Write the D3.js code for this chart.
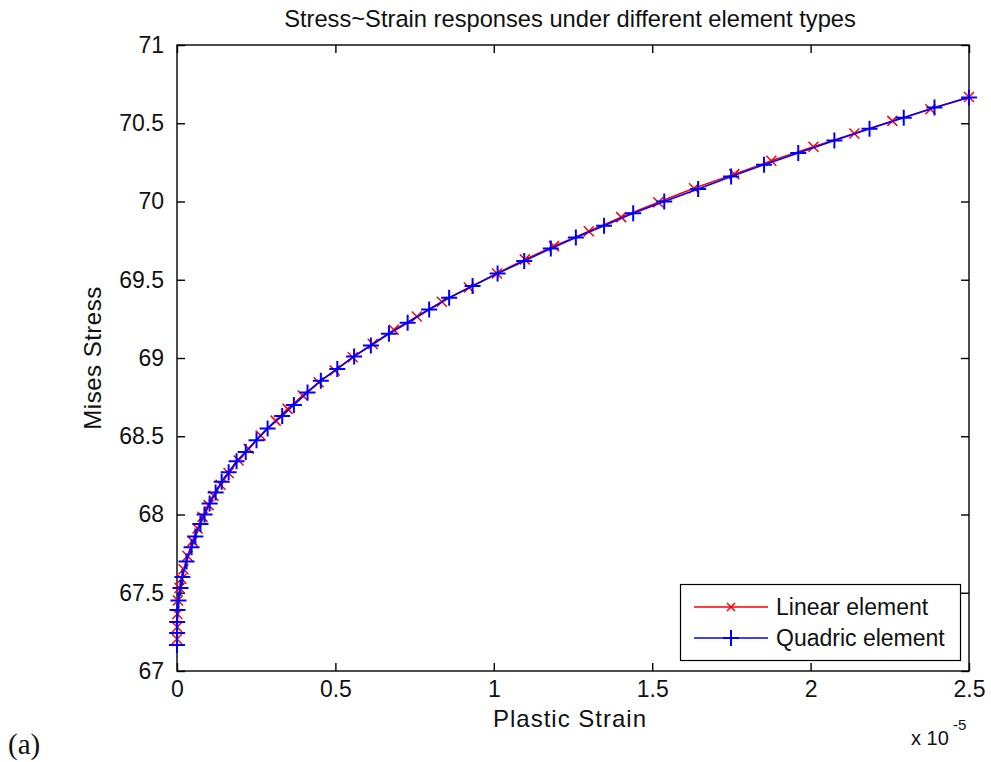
<!DOCTYPE html>
<html>
<head>
<meta charset="utf-8">
<script src="https://cdnjs.cloudflare.com/ajax/libs/d3/7.8.5/d3.min.js"></script>
<style>
  body { margin: 0; background: #fff; }
  svg text { font-family: "Liberation Sans", Arial, sans-serif; fill: #111; }
</style>
</head>
<body>
<div id="area"></div>
<script>
// strain values are in units of 1e-5
var linearStrain = [0, 0.0003, 0.001, 0.003, 0.008, 0.014, 0.0205, 0.0332, 0.049, 0.0648, 0.0806,
  0.0996, 0.1154, 0.1375, 0.1628, 0.1944, 0.226, 0.2639, 0.3113, 0.3492, 0.3966, 0.4472, 0.4978,
  0.5547, 0.6179, 0.6843, 0.7569, 0.836, 0.9213, 1.01, 1.098, 1.19, 1.3, 1.402, 1.519, 1.632,
  1.759, 1.876, 2.009, 2.138, 2.258, 2.378, 2.5];
var linearStress = [67.204, 67.281, 67.364, 67.45, 67.53, 67.59, 67.65, 67.735, 67.83, 67.91, 67.985,
  68.06, 68.12, 68.19, 68.265, 68.345, 68.42, 68.505, 68.6, 68.675, 68.76, 68.845, 68.92,
  69.005, 69.09, 69.18, 69.265, 69.36, 69.45, 69.54, 69.63, 69.715, 69.81, 69.9, 69.995, 70.085,
  70.175, 70.26, 70.35, 70.435, 70.515, 70.59, 70.668];

var quadricStrain = [0, 0.0002, 0.0006, 0.0015, 0.0047, 0.011, 0.017, 0.03, 0.046, 0.058, 0.074,
  0.087, 0.103, 0.122, 0.141, 0.163, 0.188, 0.217, 0.251, 0.286, 0.332, 0.369, 0.412, 0.454,
  0.506, 0.559, 0.612, 0.669, 0.728, 0.796, 0.859, 0.933, 1.012, 1.096, 1.18, 1.259, 1.348,
  1.44, 1.538, 1.645, 1.749, 1.853, 1.961, 2.075, 2.186, 2.294, 2.391, 2.5];
var quadricStress = [67.166, 67.243, 67.313, 67.39, 67.45, 67.53, 67.6, 67.7, 67.79, 67.86, 67.94,
  68.0, 68.07, 68.14, 68.21, 68.27, 68.34, 68.4, 68.475, 68.55, 68.63, 68.7, 68.78, 68.855,
  68.93, 69.01, 69.08, 69.155, 69.225, 69.31, 69.385, 69.46, 69.54, 69.62, 69.7, 69.77, 69.845,
  69.925, 70.0, 70.08, 70.16, 70.235, 70.31, 70.39, 70.465, 70.535, 70.6, 70.665];

var xTicks = [0, 0.5, 1, 1.5, 2, 2.5];
var yTicks = [67, 67.5, 68, 68.5, 69, 69.5, 70, 70.5, 71];
var seriesNames = ["Linear element", "Quadric element"];

var W = 991, H = 762;
var margin = { left: 177, right: 969, top: 45, bottom: 671 };

var svg = d3.select("#area").append("svg")
  .attr("width", W).attr("height", H);

var x = d3.scaleLinear().domain([0, 2.5]).range([margin.left, margin.right]);
var y = d3.scaleLinear().domain([67, 71]).range([margin.bottom, margin.top]);

// axes box
svg.append("rect")
  .attr("x", margin.left).attr("y", margin.top)
  .attr("width", margin.right - margin.left).attr("height", margin.bottom - margin.top)
  .attr("fill", "#fff").attr("stroke", "#000").attr("stroke-width", 1.4);

function styleAxis(g) {
  g.select(".domain").remove();
  g.selectAll(".tick line").attr("stroke", "#000").attr("stroke-width", 1.4);
  g.selectAll(".tick text").attr("font-size", 23).attr("fill", "#111")
    .attr("font-family", "Liberation Sans, Arial, sans-serif");
}

svg.append("g")
  .attr("transform", "translate(0," + margin.bottom + ")")
  .call(d3.axisBottom(x).tickValues(xTicks).tickFormat(String).tickSize(-8).tickPadding(10))
  .call(styleAxis);
svg.append("g")
  .attr("transform", "translate(" + margin.left + ",0)")
  .call(d3.axisLeft(y).tickValues(yTicks).tickFormat(String).tickSize(-8).tickPadding(13))
  .call(styleAxis);
svg.append("g")
  .attr("transform", "translate(0," + margin.top + ")")
  .call(d3.axisTop(x).tickValues(xTicks).tickFormat("").tickSize(-8))
  .call(styleAxis);
svg.append("g")
  .attr("transform", "translate(" + margin.right + ",0)")
  .call(d3.axisRight(y).tickValues(yTicks).tickFormat("").tickSize(-8))
  .call(styleAxis);

var line = d3.line().x(function (d) { return x(d[0]); }).y(function (d) { return y(d[1]); });

var linearData = d3.zip(linearStrain, linearStress);
var quadricData = d3.zip(quadricStrain, quadricStress);

var crossPath = "M-5,-5L5,5M-5,5L5,-5";
var plusPath = "M-8,0L8,0M0,-8L0,8";

var plot = svg.append("g");

plot.append("path").datum(linearData)
  .attr("d", line).attr("fill", "none").attr("stroke", "#ff0000").attr("stroke-width", 1.5);
plot.selectAll(".mk-lin").data(linearData).enter().append("path")
  .attr("class", "mk-lin")
  .attr("transform", function (d) { return "translate(" + x(d[0]) + "," + y(d[1]) + ")"; })
  .attr("d", crossPath).attr("stroke", "#ff0000").attr("stroke-width", 1.5).attr("fill", "none");

plot.append("path").datum(quadricData)
  .attr("d", line).attr("fill", "none").attr("stroke", "#0000ff").attr("stroke-width", 1.6);
plot.selectAll(".mk-quad").data(quadricData).enter().append("path")
  .attr("class", "mk-quad")
  .attr("transform", function (d) { return "translate(" + x(d[0]) + "," + y(d[1]) + ")"; })
  .attr("d", plusPath).attr("stroke", "#0000ff").attr("stroke-width", 2).attr("fill", "none");

// title and labels
svg.append("text")
  .attr("x", (margin.left + margin.right) / 2 - 3).attr("y", 27)
  .attr("text-anchor", "middle").attr("font-size", 23.7)
  .text("Stress~Strain responses under different element types");

svg.append("text")
  .attr("x", (margin.left + margin.right) / 2 - 3).attr("y", 727)
  .attr("text-anchor", "middle").attr("font-size", 24)
  .style("letter-spacing", "1px")
  .text("Plastic Strain");

svg.append("text")
  .attr("transform", "translate(101,358) rotate(-90)")
  .attr("text-anchor", "middle").attr("font-size", 24)
  .style("letter-spacing", "0.5px")
  .text("Mises Stress");

svg.append("text")
  .attr("x", 911).attr("y", 745).attr("font-size", 20)
  .text("x 10");
svg.append("text")
  .attr("x", 953).attr("y", 730).attr("font-size", 15)
  .text("-5");

svg.append("text")
  .attr("x", 8).attr("y", 754).attr("font-size", 29)
  .style("font-family", "Liberation Serif, Times New Roman, serif")
  .attr("fill", "#000")
  .text("(a)");

// legend
var legend = svg.append("g");
legend.append("rect")
  .attr("x", 680.5).attr("y", 584.5).attr("width", 280).attr("height", 76)
  .attr("fill", "#fff").attr("stroke", "#000").attr("stroke-width", 1.2);

var legendColors = ["#ff0000", "#0000ff"];
var legendMarks = ["M-4,-4L4,4M-4,4L4,-4", plusPath];
var legendRows = [607, 638];

seriesNames.forEach(function (name, i) {
  legend.append("line")
    .attr("x1", 694).attr("x2", 768).attr("y1", legendRows[i]).attr("y2", legendRows[i])
    .attr("stroke", legendColors[i]).attr("stroke-width", 1.5);
  legend.append("path")
    .attr("transform", "translate(731," + legendRows[i] + ")")
    .attr("d", legendMarks[i]).attr("stroke", legendColors[i])
    .attr("stroke-width", i === 0 ? 1.5 : 2).attr("fill", "none");
  legend.append("text")
    .attr("x", 776).attr("y", legendRows[i] + 8).attr("font-size", 23)
    .text(name);
});
</script>
</body>
</html>
